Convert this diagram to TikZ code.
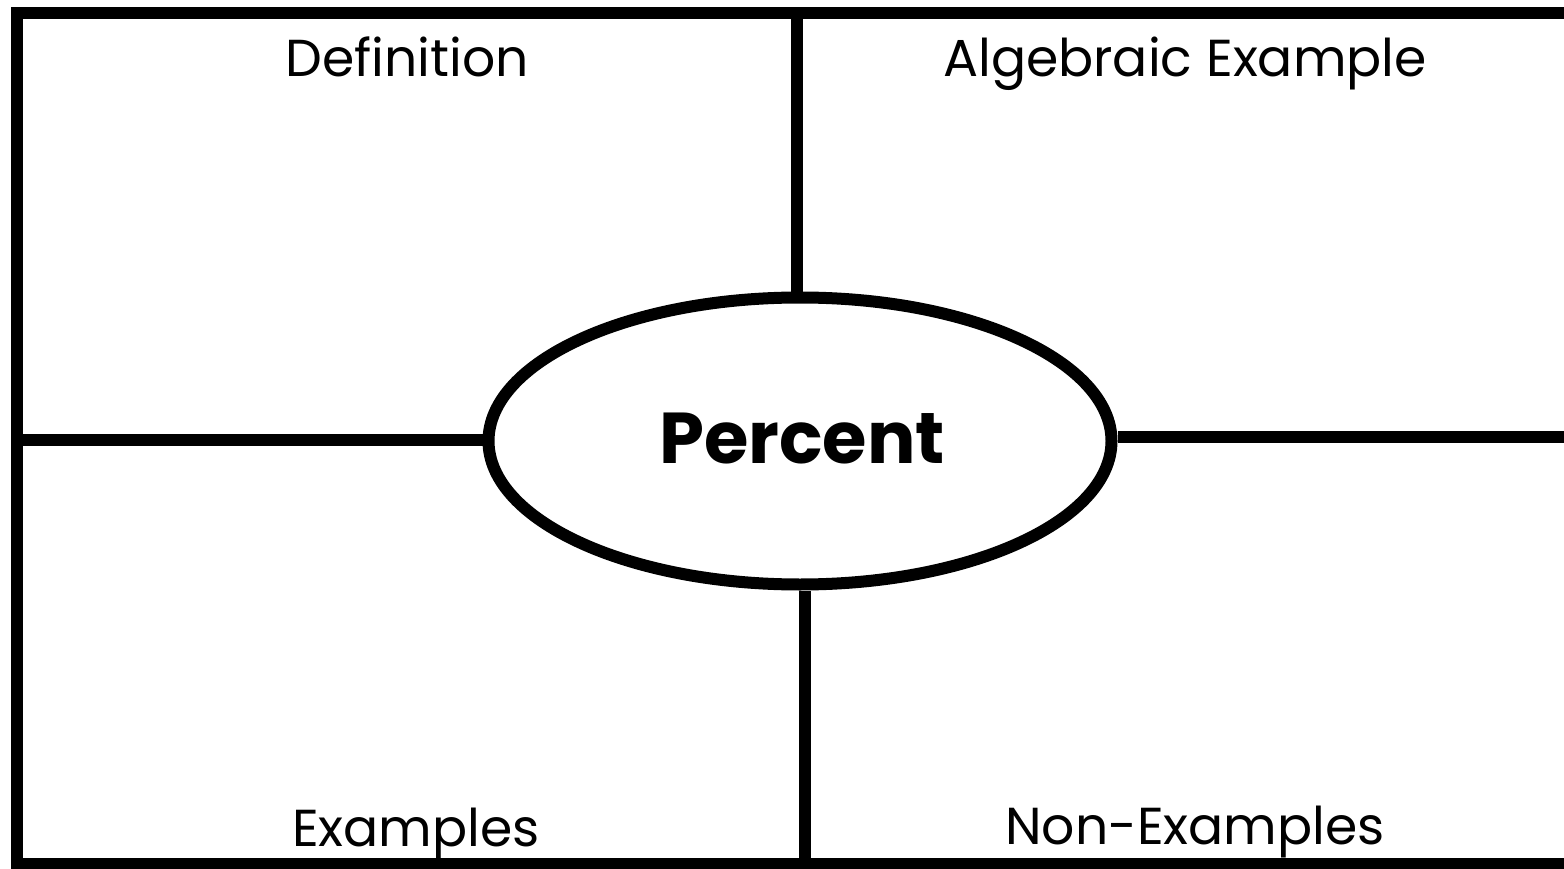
\documentclass[tikz,border=0pt]{standalone}
\usepackage{fontspec}
\setmainfont{Poppins}
\usetikzlibrary{positioning,shapes.geometric}
\tikzset{
  x=1pt,y=-1pt,
  bord/.style={line width=12.5pt,draw=black,line join=miter},
  term/.style={ellipse,draw=black,line width=12pt,fill=white,minimum width=623pt,minimum height=287pt,inner sep=0pt},
  termtxt/.style={anchor=base,inner sep=0pt,font=\fontsize{72}{80}\selectfont\bfseries},
  lbl/.style={anchor=base,inner sep=0pt,font=\fontsize{52}{60}\selectfont},
}
\begin{document}
\begin{tikzpicture}
  \useasboundingbox[fill=white] (0,0) rectangle (1564,869);
  \coordinate (tl) at (17,13);
  \coordinate (tr) at (1575,13);
  \coordinate (bl) at (17,864);
  \coordinate (br) at (1575,864);
  \coordinate (topmid) at (797,13);
  \coordinate (botmid) at (805,864);
  \coordinate (lmid) at (17,440);
  \coordinate (rmid) at (1575,437);
  \draw[bord] (tr) -- (tl) -- (bl) -- (br);
  \node[term] (cen) at (800,441) {};
  \node[termtxt] (pct) at (802,463) {Percent};
  \draw[bord] (topmid) -- (topmid |- cen.north);
  \draw[bord] (botmid) -- (botmid |- cen.south);
  \draw[bord] (lmid) -- (cen.west |- lmid);
  \draw[bord] (rmid) -- (cen.east |- rmid);
  \node[lbl] (defn) at (407,77) {Definition};
  \node[lbl] (alg) at (1185,77) {Algebraic Example};
  \node[lbl] (exs) at (416,846) {Examples};
  \node[lbl] (nonex) at (1195,844) {Non-Examples};
\end{tikzpicture}
\end{document}
